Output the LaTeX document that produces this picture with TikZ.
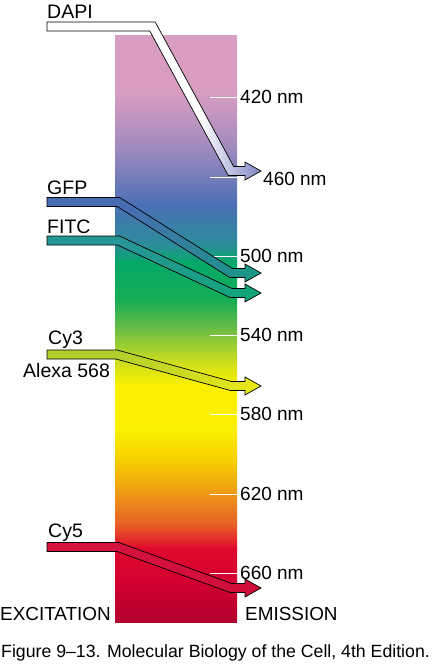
\documentclass[tikz,border=0pt]{standalone}
\usepackage{fontspec}
\setmainfont{Liberation Sans}
\usepackage{xcolor}
\usepackage{tikz}

% bar colours
\definecolor{barpink}{RGB}{216,157,193}
\definecolor{barviolet}{RGB}{158,138,190}
\definecolor{barblue}{RGB}{74,111,181}
\definecolor{barteal}{RGB}{43,142,154}
\definecolor{bargreen}{RGB}{5,168,106}
\definecolor{bargreenB}{RGB}{22,173,85}
\definecolor{barlime}{RGB}{110,190,68}
\definecolor{baryellowgreen}{RGB}{205,222,30}
\definecolor{baryellow}{RGB}{250,240,0}
\definecolor{bargold}{RGB}{246,205,0}
\definecolor{barorange}{RGB}{238,150,24}
\definecolor{barorangered}{RGB}{231,95,38}
\definecolor{barred}{RGB}{224,10,45}
\definecolor{barredB}{RGB}{212,0,48}
\definecolor{bardarkred}{RGB}{178,0,46}
% dye colours
\definecolor{dapiblue}{RGB}{125,132,196}
\definecolor{gfpblue}{RGB}{72,108,180}
\definecolor{gfpgreen}{RGB}{22,155,128}
\definecolor{fitcteal}{RGB}{38,150,150}
\definecolor{fitcgreen}{RGB}{14,166,118}
\definecolor{cythree}{RGB}{178,208,45}
\definecolor{cythreeyellow}{RGB}{238,234,20}
\definecolor{cyfive}{RGB}{214,18,62}
\definecolor{cyfiveB}{RGB}{206,14,56}

% excitation -> emission band: {y start}{y end}{x bend}{miter shift}
\newcommand{\dyeband}[4]{(47,#1-4.5) -- ({#3+#4},#1-4.5) -- ({231+#4},#2-4.5) -- (245,#2-4.5) -- (245,#2-9) -- (261,#2) -- (245,#2+9) -- (245,#2+4.5) -- ({231-#4},#2+4.5) -- ({#3-#4},#1+4.5) -- (47,#1+4.5) -- cycle}

\begin{document}
\begin{tikzpicture}[x=1pt, y=-1pt,
    dyelabel/.style={font=\fontsize{19.5}{22}\selectfont, inner sep=0pt, anchor=base west},
    nmlabel/.style={font=\fontsize{19}{22}\selectfont, inner sep=0pt, anchor=west},
    nmtick/.style={white, line width=1pt},
    band/.style={draw=black, line width=0.7pt, line join=miter},
]
\useasboundingbox (0,0) rectangle (436,669);

% Spectrum bar using shaded segments
\foreach \ya/\yb/\ca/\cb in {36/92/barpink/barpink, 92/150/barpink/barviolet,
    150/205/barviolet/barblue, 205/245/barblue/barteal, 245/262/barteal/bargreen,
    262/300/bargreen/bargreenB, 300/330/bargreenB/barlime, 330/362/barlime/baryellowgreen,
    362/385/baryellowgreen/baryellow, 385/430/baryellow/baryellow, 430/462/baryellow/bargold,
    462/495/bargold/barorange, 495/525/barorange/barorangered, 525/548/barorangered/barred,
    548/580/barred/barredB, 580/622/barredB/bardarkred} {
    \shade[top color=\ca, bottom color=\cb] (115,\ya-0.5) rectangle (237,\yb+0.5);
}

% Wavelength ticks
\foreach \y/\nm in {97/420, 256/500, 335/540, 414/580, 494/620, 573/660} {
    \draw[nmtick] (210,\y) -- (238,\y);
    \node[nmlabel] (nm\nm) at (240,\y) {\nm\ nm};
}
\draw[nmtick] (210,177) -- (238,177);
\node[nmlabel] (nm460) at (263,179) {460 nm};

% Dye arrows
\foreach \ya/\yb/\xb/\k/\ca/\cb/\xs in {26.5/171/152.5/2.7/white/dapiblue/200,
    202/273/118.5/1.3/gfpblue/gfpgreen/125, 240.5/293/118.5/1.0/fitcteal/fitcgreen/125,
    354.5/386/116.5/0.6/cythree/cythreeyellow/118, 547/588/118/0.8/cyfive/cyfiveB/118} {
    \begin{scope}
        \clip \dyeband{\ya}{\yb}{\xb}{\k};
        \fill[\ca] (40,0) rectangle (\xs,669);
        \shade[left color=\ca, right color=\cb] (\xs,0) rectangle (262,669);
    \end{scope}
    \draw[band] \dyeband{\ya}{\yb}{\xb}{\k};
}

% Dye names
\node[dyelabel] (dapi) at (47,19) {DAPI};
\node[dyelabel] (gfp) at (47,194) {GFP};
\node[dyelabel] (fitc) at (47,233) {FITC};
\node[dyelabel] (cy3) at (48,344) {Cy3};
\node[dyelabel] (alexa) at (23,377) {Alexa 568};
\node[dyelabel] (cy5) at (48,537) {Cy5};

\node[dyelabel, font=\fontsize{18.9}{22}\selectfont] (excitation) at (0,620) {EXCITATION};
\node[dyelabel, font=\fontsize{18.9}{22}\selectfont] (emission) at (245,620) {EMISSION};

\node[dyelabel, font=\fontsize{17.7}{20}\selectfont] (caption) at (1,657) {Figure 9--13. Molecular Biology of the Cell, 4th Edition.};

\end{tikzpicture}
\end{document}
